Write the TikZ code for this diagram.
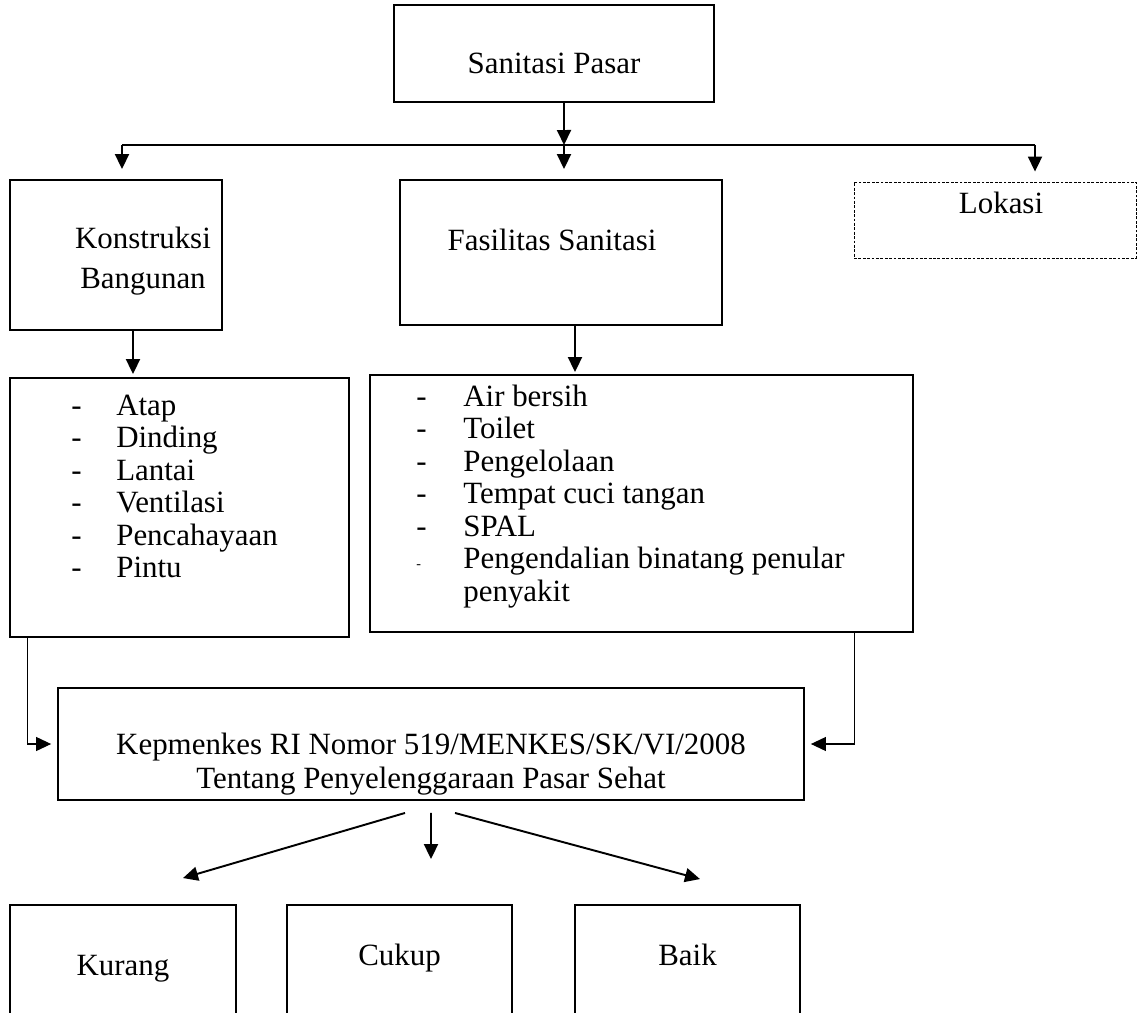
\documentclass[tikz,border=0pt]{standalone}
\usepackage{fontspec}
\setmainfont{Liberation Serif}
\usetikzlibrary{positioning,arrows.meta}

\begin{document}
\begin{tikzpicture}[x=0.02cm, y=-0.02cm, font=\fontsize{17.6pt}{18.5pt}\selectfont,
  box/.style={draw, line width=1.1pt, inner sep=0pt, align=center},
  dotbox/.style={draw, line width=0.5pt, dash pattern=on 1.6pt off 0.9pt},
  arr/.style={-{Triangle[length=0.3cm, width=0.28cm]}, line width=1.1pt},
  thinarr/.style={-{Triangle[length=0.3cm, width=0.28cm]}, line width=0.6pt, shorten >=0.12cm}]

\useasboundingbox (0,0) rectangle (1138,1013);

% Nodes
\node[box, minimum width=6.4cm, minimum height=1.94cm,
  label={[yshift=-0.2cm]center:Sanitasi Pasar}] (pasar) at (554,53.5) {};
\node[box, minimum width=4.24cm, minimum height=3cm,
  label={[align=center, xshift=0.54cm, yshift=-0.12cm]center:{Konstruksi\\[4.7pt]Bangunan}}] (kons) at (116,255) {};
\node[box, minimum width=6.44cm, minimum height=2.9cm,
  label={[xshift=-0.18cm, yshift=0.25cm]center:Fasilitas Sanitasi}] (fas) at (561,252.5) {};
\node[dotbox, minimum width=5.64cm, minimum height=1.52cm,
  label={[xshift=0.12cm, yshift=0.34cm]center:Lokasi}] (lokasi) at (995,220) {};

% Lists
\node[box, minimum width=6.78cm, minimum height=5.18cm] (konlist) at (179.5,507.5) {};
\node[anchor=north west, inner sep=0pt] (konitems) at (71,392) {%
  \begin{tabular}{@{}p{0.9cm}@{}l@{}}
  - & Atap\\
  - & Dinding\\
  - & Lantai\\
  - & Ventilasi\\
  - & Pencahayaan\\
  - & Pintu
  \end{tabular}};
\node[box, minimum width=10.86cm, minimum height=5.14cm] (faslist) at (641.5,503.5) {};
\node[anchor=north west, inner sep=0pt] (fasitems) at (416,383) {%
  \begin{tabular}{@{}p{0.94cm}@{}l@{}}
  - & Air bersih\\
  - & Toilet\\
  - & Pengelolaan\\
  - & Tempat cuci tangan\\
  - & SPAL\\
  {\footnotesize -} & Pengendalian binatang penular\\
    & penyakit
  \end{tabular}};

% Regulation and result
\node[box, minimum width=14.92cm, minimum height=2.24cm,
  label={[align=center, yshift=-0.4cm]center:{Kepmenkes RI Nomor 519/MENKES/SK/VI/2008\\[0.5pt]Tentang Penyelenggaraan Pasar Sehat}}] (kep) at (431,744) {};
\node[box, minimum width=4.52cm, minimum height=2.5cm,
  label={[yshift=-0.02cm]center:Kurang}] (kurang) at (123,967.5) {};
\node[box, minimum width=4.5cm, minimum height=2.5cm,
  label={[yshift=0.18cm]center:Cukup}] (cukup) at (399.5,967.5) {};
\node[box, minimum width=4.5cm, minimum height=2.5cm,
  label={[yshift=0.25cm]center:Baik}] (baik) at (687.5,967.5) {};

% Arrows
\coordinate (hub) at (564,145);
\coordinate (hubL) at (122,145);
\coordinate (hubR) at (1035,145);
\draw[arr] ([xshift=0.2cm]pasar.south) -- (hub);
\draw[line width=1.1pt] (hubL) -- (hubR);
\draw[arr, shorten >=0.2cm] (hubL) -- (hubL |- kons.north);
\draw[arr, shorten >=0.2cm] (hub) -- (hub |- fas.north);
\draw[arr, shorten >=0.2cm] (hubR) -- (hubR |- lokasi.north);

\draw[arr, shorten >=0.06cm] ([xshift=0.34cm]kons.south) -- ([xshift=0.34cm]kons.south |- konlist.north);
\draw[arr, shorten >=0.04cm] ([xshift=0.28cm]fas.south) -- ([xshift=0.28cm]fas.south |- faslist.north);

\draw[thinarr] ([xshift=0.36cm]konlist.south west) |- (kep.west);
\draw[thinarr] ([xshift=-1.18cm]faslist.south east) |- (kep.east);

\draw[arr] ([xshift=-0.52cm, yshift=-0.24cm]kep.south) -- ([xshift=1.2cm, yshift=0.52cm]kurang.north);
\draw[arr] ([yshift=-0.24cm]kep.south) -- ([xshift=0.63cm, yshift=0.9cm]cukup.north);
\draw[arr] ([xshift=0.48cm, yshift=-0.24cm]kep.south) -- ([xshift=0.25cm, yshift=0.5cm]baik.north);

\end{tikzpicture}
\end{document}
